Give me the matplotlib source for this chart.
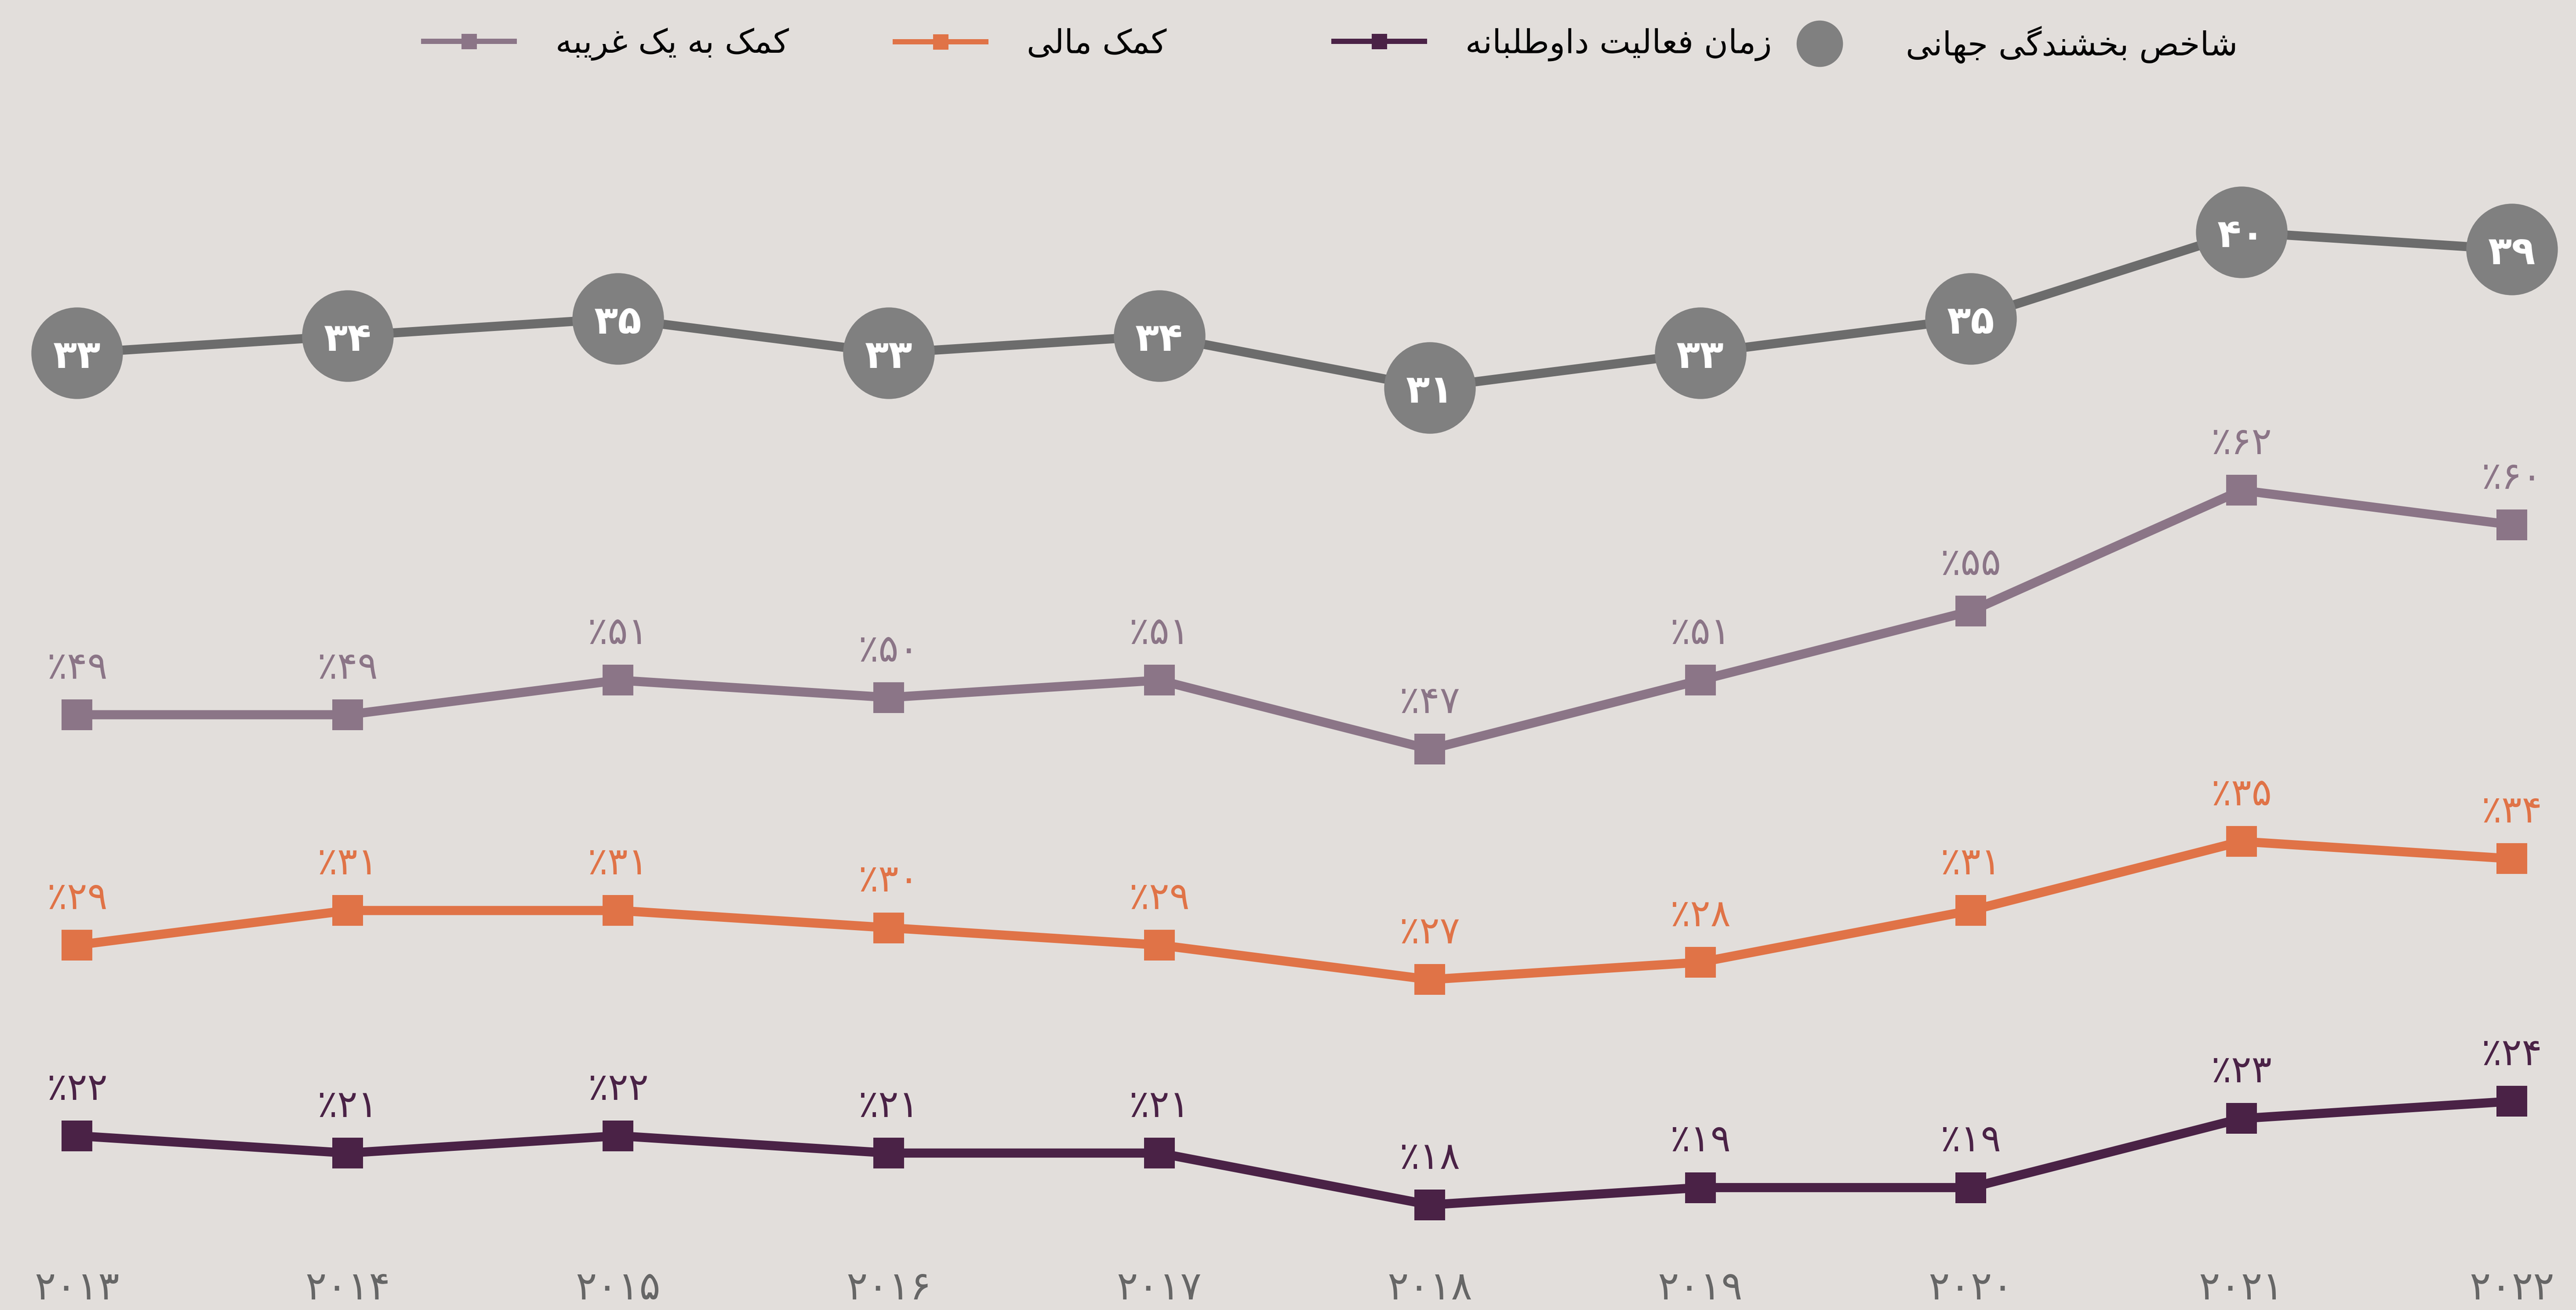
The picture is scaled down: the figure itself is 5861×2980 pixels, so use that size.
import matplotlib
matplotlib.use("Agg")
import matplotlib.pyplot as plt
from matplotlib.lines import Line2D

# Data
years = [2013, 2014, 2015, 2016, 2017, 2018, 2019, 2020, 2021, 2022]
giving_index = [33, 34, 35, 33, 34, 31, 33, 35, 40, 39]
helping_stranger = [49, 49, 51, 50, 51, 47, 51, 55, 62, 60]
donating_money = [29, 31, 31, 30, 29, 27, 28, 31, 35, 34]
volunteering = [22, 21, 22, 21, 21, 18, 19, 19, 23, 24]

label_index = "شاخص بخشندگی جهانی"
label_volunteer = "زمان فعالیت داوطلبانه"
label_money = "کمک مالی"
label_stranger = "کمک به یک غریبه"

# Colours
BG = "#e2dedb"
GREY_DOT = "#808080"
GREY_LINE = "#6c6c6c"
MAUVE = "#8b7587"
ORANGE = "#e07347"
PURPLE = "#4a2246"
YEAR_COL = "#666666"

# matplotlib does no Arabic shaping, so pick presentation forms by hand
# (isolated, final, initial, medial)
FORMS = {
    "ا": (0xFE8D, 0xFE8E), "د": (0xFEA9, 0xFEAA), "ر": (0xFEAD, 0xFEAE),
    "ز": (0xFEAF, 0xFEB0), "و": (0xFEED, 0xFEEE),
    "ب": (0xFE8F, 0xFE90, 0xFE91, 0xFE92), "ت": (0xFE95, 0xFE96, 0xFE97, 0xFE98),
    "ج": (0xFE9D, 0xFE9E, 0xFE9F, 0xFEA0), "خ": (0xFEA5, 0xFEA6, 0xFEA7, 0xFEA8),
    "ش": (0xFEB5, 0xFEB6, 0xFEB7, 0xFEB8), "ص": (0xFEB9, 0xFEBA, 0xFEBB, 0xFEBC),
    "ط": (0xFEC1, 0xFEC2, 0xFEC3, 0xFEC4), "ع": (0xFEC9, 0xFECA, 0xFECB, 0xFECC),
    "غ": (0xFECD, 0xFECE, 0xFECF, 0xFED0), "ف": (0xFED1, 0xFED2, 0xFED3, 0xFED4),
    "ل": (0xFEDD, 0xFEDE, 0xFEDF, 0xFEE0), "م": (0xFEE1, 0xFEE2, 0xFEE3, 0xFEE4),
    "ن": (0xFEE5, 0xFEE6, 0xFEE7, 0xFEE8), "ه": (0xFEE9, 0xFEEA, 0xFEEB, 0xFEEC),
    "ک": (0xFB8E, 0xFB8F, 0xFB90, 0xFB91), "گ": (0xFB92, 0xFB93, 0xFB94, 0xFB95),
    "ی": (0xFBFC, 0xFBFD, 0xFBFE, 0xFBFF),
}


def shape(text):
    out = []
    for i, ch in enumerate(text):
        if ch not in FORMS:
            out.append(ch)
            continue
        prev = text[i - 1] if i > 0 else ""
        nxt = text[i + 1] if i + 1 < len(text) else ""
        f = FORMS[ch]
        join_prev = prev in FORMS and len(FORMS[prev]) == 4
        join_next = len(f) == 4 and nxt in FORMS
        if join_prev and join_next:
            out.append(chr(f[3]))
        elif join_prev:
            out.append(chr(f[1]))
        elif join_next:
            out.append(chr(f[2]))
        else:
            out.append(chr(f[0]))
    return "".join(reversed(out))


FA_DIGITS = str.maketrans("0123456789", "۰۱۲۳۴۵۶۷۸۹")


def fa(n):
    return str(n).translate(FA_DIGITS)


plt.rcParams["font.family"] = ["DejaVu Sans"]

fig = plt.figure(figsize=(29.305, 14.9), dpi=200, facecolor=BG)

# every series gets its own y range on the same scale (10.5 px per point)
plot_rect = [0, 1 - 772 / 797, 1, 772 / 797]
span = 73.5
xlim = (2012.715, 2022.237)


def make_ax(lo):
    ax = fig.add_axes(plot_rect)
    ax.patch.set_alpha(0)
    ax.set_xlim(*xlim)
    ax.set_ylim(lo, lo + span)
    for s in ax.spines.values():
        s.set_visible(False)
    ax.set_yticks([])
    ax.set_xticks([])
    return ax


ax_vol = make_ax(14.29)
ax_money = make_ax(10.24)
ax_str = make_ax(16.9)
ax_idx = make_ax(-20.05)

# year labels along the bottom
ax_vol.set_xticks(years)
ax_vol.set_xticklabels([fa(y) for y in years])
ax_vol.tick_params(axis="x", length=0, pad=0, labelsize=32.5, labelcolor=YEAR_COL)

# giving index: grey line with numbered circles
ax_idx.plot(years, giving_index, color=GREY_LINE, lw=7.5, zorder=1)
ax_idx.plot(years, giving_index, "o", color=GREY_DOT, ms=75, mew=0, zorder=2)
for x, v in zip(years, giving_index):
    ax_idx.text(x, v, fa(v), color="white", fontsize=32, fontweight="bold",
                ha="center", va="center_baseline", zorder=3)

# percentage series
for ax, vals, col in [(ax_str, helping_stranger, MAUVE),
                      (ax_money, donating_money, ORANGE),
                      (ax_vol, volunteering, PURPLE)]:
    ax.plot(years, vals, color=col, lw=7.5, marker="s", ms=25, mew=0)
    for x, v in zip(years, vals):
        ax.annotate("٪" + fa(v), (x, v), xytext=(0, 38), textcoords="offset points",
                    color=col, fontsize=31, ha="center", va="center")

# legend across the top, one entry each at its own spot
items = [
    (258, Line2D([], [], color=MAUVE, lw=4.3, marker="s", ms=12.6, mew=0), label_stranger),
    (545, Line2D([], [], color=ORANGE, lw=4.3, marker="s", ms=12.6, mew=0), label_money),
    (812, Line2D([], [], color=PURPLE, lw=4.3, marker="s", ms=12.6, mew=0), label_volunteer),
    (1080, Line2D([], [], color=GREY_DOT, ls="none", marker="o", ms=38, mew=0), label_index),
]
for x0, handle, text in items:
    fig.legend([handle], [shape(text)], loc="center left",
               bbox_to_anchor=(x0 / 1568, 1 - 27 / 797), frameon=False,
               fontsize=27, handlelength=2.74, handletextpad=1.25,
               borderpad=0, borderaxespad=0)

fig.savefig("out.png", dpi=200, facecolor=BG)
